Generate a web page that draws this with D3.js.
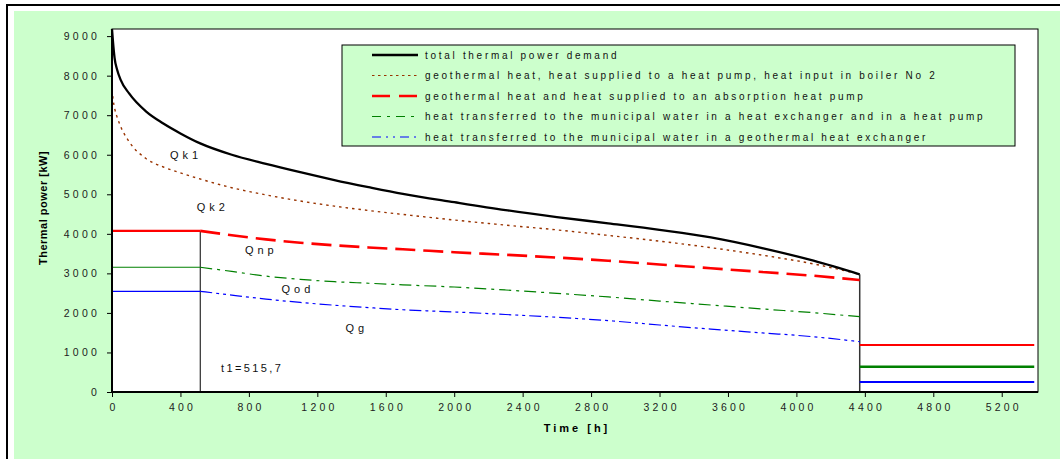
<!DOCTYPE html>
<html>
<head>
<meta charset="utf-8">
<style>
  body { margin: 0; background: #fff; }
  svg { display: block; font-family: 'Liberation Sans', Arial, sans-serif; }
  .tick text { font-size: 10.5px; fill: #222; letter-spacing: 3.2px; }
  .legend text { font-size: 10px; fill: #111; letter-spacing: 2.7px; }
  .note { font-size: 11px; fill: #111; }
</style>
</head>
<body>
<svg width="1060" height="459"></svg>
<script src="https://d3js.org/d3.v7.min.js"></script>
<script>
// ---- data ----
const hours = [0, 5, 15, 30, 50, 100, 200, 300, 400, 515.7, 700, 900, 1100, 1300, 1500, 1700, 2000, 2300, 2600, 2900, 3200, 3500, 3800, 4100, 4370];
const qk1 = [9180, 8900, 8450, 8150, 7900, 7550, 7090, 6790, 6540, 6287, 6000, 5770, 5560, 5360, 5180, 5010, 4800, 4600, 4425, 4265, 4100, 3910, 3640, 3320, 2975];
const qk2 = [7650, 7450, 7180, 6950, 6720, 6330, 5900, 5690, 5540, 5386, 5166, 4985, 4830, 4700, 4590, 4490, 4350, 4220, 4100, 3960, 3815, 3650, 3460, 3240, 2975];

const t1 = 515.7;
const tEnd = 4370;
const tLast = 5390;

const hoursFall = [515.7, 700, 900, 1100, 1300, 1500, 1700, 2000, 2300, 2600, 2900, 3200, 3500, 3800, 4100, 4370];
const qnp = [4075, 3965, 3860, 3775, 3710, 3655, 3610, 3535, 3470, 3400, 3320, 3225, 3130, 3035, 2940, 2832];
const qod = [3155, 3050, 2930, 2850, 2790, 2750, 2710, 2655, 2580, 2495, 2405, 2300, 2200, 2100, 2005, 1904];
const qg  = [2546, 2450, 2350, 2265, 2195, 2135, 2080, 2025, 1960, 1890, 1805, 1695, 1590, 1495, 1397, 1272];

// flat levels after the heating season (t > 4370 h)
const qnpSummer = 1190, qodSummer = 640, qgSummer = 253;

const yTicks = [0, 1000, 2000, 3000, 4000, 5000, 6000, 7000, 8000, 9000];
const xTicks = [0, 400, 800, 1200, 1600, 2000, 2400, 2800, 3200, 3600, 4000, 4400, 4800, 5200];

const legendLabels = [
  "total thermal power demand",
  "geothermal heat, heat supplied to a heat pump, heat input in boiler No 2",
  "geothermal heat and heat supplied to an absorption heat pump",
  "heat transferred to the municipal water in a heat exchanger and in a heat pump",
  "heat transferred to the municipal water in a geothermal heat exchanger"
];

const notes = [
  { text: "Qk1", h: 339, v: 5891 },
  { text: "Qk2", h: 495, v: 4589 },
  { text: "Qnp", h: 777, v: 3489 },
  { text: "Qod", h: 991, v: 2516 },
  { text: "Qg", h: 1365, v: 1530 }
];
const t1Label = "t1=515,7";

// ---- drawing ----
const svg = d3.select("svg");
const plotL = 112, plotR = 1038, plotT = 29, plotB = 392;

// frame + green background
svg.append("rect").attr("x", 7).attr("y", 5).attr("width", 1070).attr("height", 470)
  .attr("fill", "#fff").attr("stroke", "#000").attr("stroke-width", 2);
svg.append("rect").attr("x", 14).attr("y", 11).attr("width", 1060).attr("height", 460)
  .attr("fill", "#CCFFCC");

let x = d3.scaleLinear().domain([0, 5412]).range([plotL, plotR]);
let y = d3.scaleLinear().domain([0, 9180]).range([plotB, plotT]);

svg.append("rect").attr("x", plotL).attr("y", plotT).attr("width", plotR - plotL).attr("height", plotB - plotT)
  .attr("fill", "#fff").attr("stroke", "#000").attr("stroke-width", 1);

let line = d3.line().x(d => x(d[0])).y(d => y(d[1])).curve(d3.curveMonotoneX);
let straight = d3.line().x(d => x(d[0])).y(d => y(d[1]));

function draw(pts, color, width, dash, curved) {
  svg.append("path")
    .attr("d", (curved ? line : straight)(pts))
    .attr("fill", "none")
    .attr("stroke", color)
    .attr("stroke-width", width)
    .attr("stroke-dasharray", dash || null);
}

// vertical markers
draw([[t1, 0], [t1, qnp[0]]], "#000", 1);
draw([[tEnd, 0], [tEnd, qk1[qk1.length - 1]]], "#333", 1.5);

// flat parts up to t1
draw([[0, qnp[0]], [t1, qnp[0]]], "#ff0000", 2.3);
draw([[0, qod[0]], [t1, qod[0]]], "#008000", 1.2);
draw([[0, qg[0]], [t1, qg[0]]], "#0000ff", 1.2);

// falling parts
draw(hours.map((h, i) => [h, qk2[i]]), "#993300", 1.4, "2.5,4", true);
draw(hoursFall.map((h, i) => [h, qnp[i]]), "#ff0000", 2.6, "20,8", true);
draw(hoursFall.map((h, i) => [h, qod[i]]), "#008000", 1.2, "12,5,3,5", true);
draw(hoursFall.map((h, i) => [h, qg[i]]), "#0000ff", 1.2, "12,4,3,4,3,4", true);
draw(hours.map((h, i) => [h, qk1[i]]), "#000", 2.3, null, true);

// summer levels
draw([[tEnd, qnpSummer], [tLast, qnpSummer]], "#ff0000", 2);
draw([[tEnd, qodSummer], [tLast, qodSummer]], "#008000", 2.5);
draw([[tEnd, qgSummer], [tLast, qgSummer]], "#0000ff", 2);

// axes
let yAxis = svg.append("g").attr("transform", `translate(${plotL},0)`)
  .call(d3.axisLeft(y).tickValues(yTicks).tickSize(5).tickPadding(7).tickFormat(d3.format("d")));
let xAxis = svg.append("g").attr("transform", `translate(0,${plotB})`)
  .call(d3.axisBottom(x).tickValues(xTicks).tickSize(5).tickPadding(7).tickFormat(d3.format("d")));
[yAxis, xAxis].forEach(g => {
  g.select(".domain").remove();
  g.selectAll(".tick line").attr("stroke", "#000");
  g.attr("font-family", null).attr("font-size", null);
});
xAxis.selectAll(".tick text").attr("dx", "1.6px");

svg.append("line").attr("x1", plotL).attr("x2", plotL).attr("y1", plotT).attr("y2", plotB)
  .attr("stroke", "#000").attr("stroke-width", 2);
svg.append("line").attr("x1", plotL - 1).attr("x2", plotR).attr("y1", plotB).attr("y2", plotB)
  .attr("stroke", "#000").attr("stroke-width", 2);

// axis titles
svg.append("text")
  .attr("transform", "translate(47,208) rotate(-90)")
  .attr("text-anchor", "middle")
  .style("font-size", "11px").style("font-weight", "bold").style("letter-spacing", "0.5px")
  .text("Thermal power [kW]");
svg.append("text")
  .attr("x", 577).attr("y", 432)
  .attr("text-anchor", "middle")
  .style("font-size", "11px").style("font-weight", "bold").style("letter-spacing", "3px")
  .text("Time [h]");

// curve labels
svg.selectAll(".qlabel").data(notes).join("text")
  .attr("class", "note qlabel")
  .attr("x", d => x(d.h)).attr("y", d => y(d.v))
  .style("letter-spacing", "4px")
  .text(d => d.text);
svg.append("text").attr("class", "note")
  .attr("x", x(637)).attr("y", y(506))
  .style("letter-spacing", "2.4px")
  .text(t1Label);

// legend
let legendStyles = [
  { color: "#000", width: 2.3, dash: null },
  { color: "#993300", width: 1, dash: "2.5,3.5" },
  { color: "#ff0000", width: 2.6, dash: "18,9" },
  { color: "#008000", width: 1.2, dash: "9,6,3,6" },
  { color: "#0000ff", width: 1.2, dash: "9,5,2,5,2,5" }
];
let legend = svg.append("g").attr("class", "legend");
legend.append("rect").attr("x", 342).attr("y", 45).attr("width", 673).attr("height", 101)
  .attr("fill", "#CCFFCC").attr("stroke", "#000").attr("stroke-width", 1);
let rows = legend.selectAll("g").data(legendLabels).join("g")
  .attr("transform", (d, i) => `translate(0,${55 + i * 20.5})`);
rows.append("line").attr("x1", 372).attr("x2", 418).attr("y1", 0).attr("y2", 0)
  .attr("stroke", (d, i) => legendStyles[i].color)
  .attr("stroke-width", (d, i) => legendStyles[i].width)
  .attr("stroke-dasharray", (d, i) => legendStyles[i].dash);
rows.append("text").attr("x", 425).attr("y", 3.5).text(d => d);
</script>
</body>
</html>
